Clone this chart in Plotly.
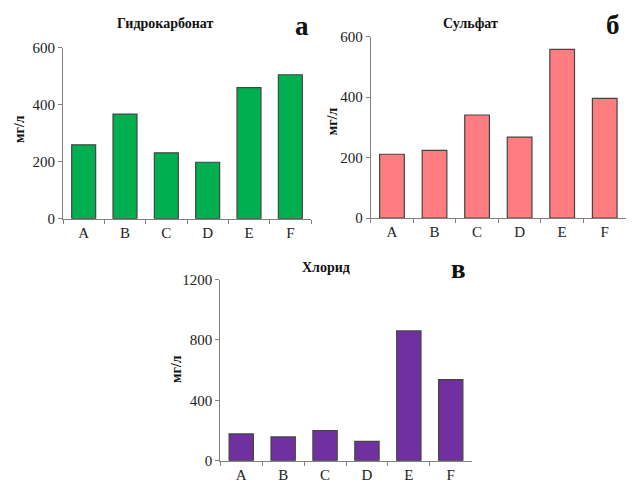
import plotly.graph_objects as go

categories = ["A", "B", "C", "D", "E", "F"]
bicarbonate = [259, 367, 231, 198, 460, 505]
sulfate = [211, 224, 341, 268, 558, 396]
chloride = [177, 157, 199, 128, 860, 537]

titles = ["Гидрокарбонат", "Сульфат", "Хлорид"]
panel_letters = ["а", "б", "в"]
y_label = "мг/л"
y_ticks_ab = [0, 200, 400, 600]
y_ticks_c = [0, 400, 800, 1200]

W, H = 632, 497
def fx(px):
    return px / W
def fy(py):
    return 1 - py / H

fig = go.Figure()
colors = ["#00B050", "#FF7C80", "#7030A0"]
series = [bicarbonate, sulfate, chloride]
xax = ["x", "x2", "x3"]
yax = ["y", "y2", "y3"]
for i in range(3):
    fig.add_trace(go.Bar(
        x=categories, y=series[i], xaxis=xax[i], yaxis=yax[i],
        marker=dict(color=colors[i], line=dict(color="#444444", width=1.2)),
        showlegend=False, hoverinfo="x+y"))

font_serif = "Liberation Serif, Times New Roman, serif"
axis_common = dict(showline=True, linecolor="#808080", linewidth=1, showgrid=False,
                   zeroline=False, ticks="outside", tickcolor="#808080",
                   tickfont=dict(family=font_serif, size=15, color="#222222"))

dom = [
    dict(x=[fx(63), fx(311)], y=[fy(217.7), fy(41)]),
    dict(x=[fx(370.7), fx(626)], y=[fy(217), fy(29.7)]),
    dict(x=[fx(220.3), fx(471.7)], y=[fy(467.7), fy(280.7)]),
]
yranges = [[0, 600], [0, 600], [0, 1200]]
ytickvals = [y_ticks_ab, y_ticks_ab, y_ticks_c]

layout = dict(width=W, height=H, margin=dict(l=0, r=0, t=0, b=0),
              paper_bgcolor="white", plot_bgcolor="white", bargap=0.42,
              font=dict(family=font_serif))
for i in range(3):
    xs = "xaxis" if i == 0 else f"xaxis{i+1}"
    ys = "yaxis" if i == 0 else f"yaxis{i+1}"
    layout[xs] = dict(domain=dom[i]["x"], anchor=yax[i], tickson="boundaries",
                      ticklen=4, **axis_common)
    layout[ys] = dict(domain=dom[i]["y"], anchor=xax[i], range=yranges[i],
                      tickvals=ytickvals[i], ticklen=4, **axis_common)
fig.update_layout(**layout)

title_pos = [(165, 16), (470, 16), (326, 268)]
letter_pos = [(302, 19), (613, 18), (458, 270)]
ylab_pos = [(20, 125), (332, 117), (177, 373)]
for i in range(3):
    fig.add_annotation(x=fx(title_pos[i][0]), y=fy(title_pos[i][1]), xref="paper", yref="paper",
                       xanchor="center", yanchor="middle",
                       text=f"<b>{titles[i]}</b>", showarrow=False,
                       font=dict(family=font_serif, size=14, color="#111111"))
    fig.add_annotation(x=fx(letter_pos[i][0]), y=fy(letter_pos[i][1]), xref="paper", yref="paper",
                       xanchor="center", yanchor="middle",
                       text=f"<b>{panel_letters[i]}</b>", showarrow=False,
                       font=dict(family=font_serif, size=27, color="#111111"))
    fig.add_annotation(x=fx(ylab_pos[i][0]), y=fy(ylab_pos[i][1]), xref="paper", yref="paper",
                       xanchor="center", yanchor="middle",
                       text=f"<b>{y_label}</b>", showarrow=False, textangle=-90,
                       font=dict(family=font_serif, size=14, color="#111111"))

fig.write_html("out.html", config={"displayModeBar": False})

# remove default page margin so the figure sits at the window origin
with open("out.html", "r", encoding="utf-8") as f:
    html = f.read()
html = html.replace("<head>", "<head><style>html,body{margin:0;padding:0;overflow:hidden;}</style>", 1)
with open("out.html", "w", encoding="utf-8") as f:
    f.write(html)
